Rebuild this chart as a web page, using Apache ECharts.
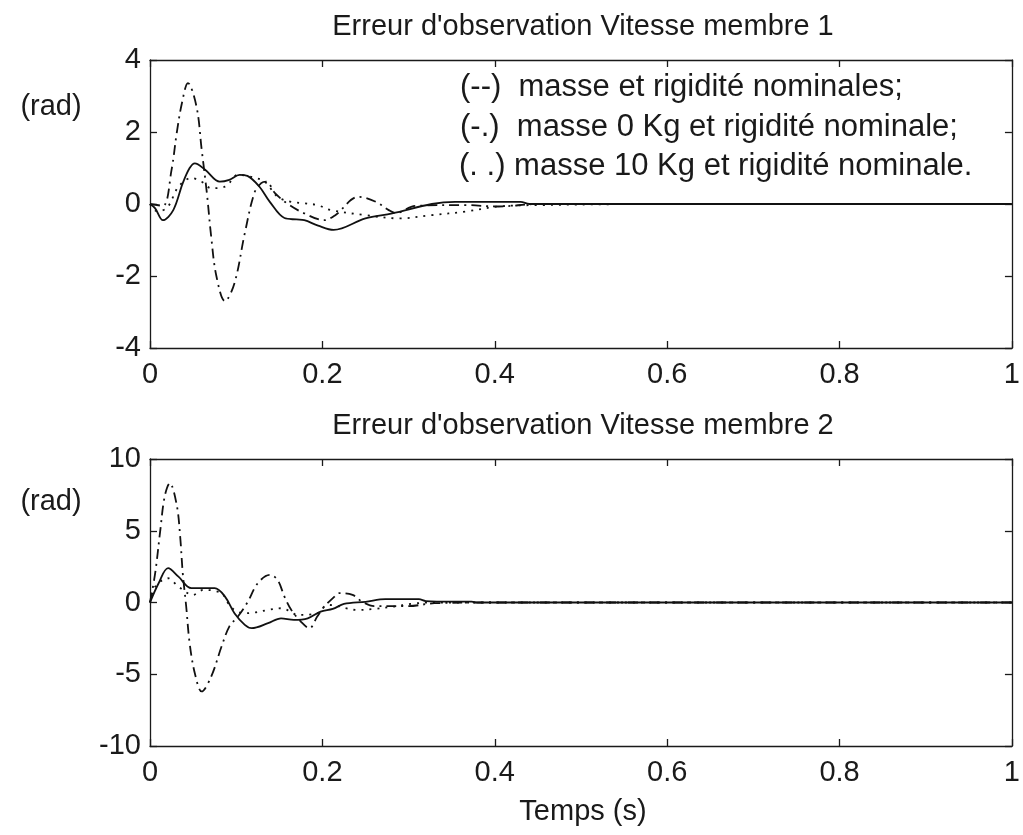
<!DOCTYPE html>
<html>
<head>
<meta charset="utf-8">
<script src="https://cdn.jsdelivr.net/npm/echarts@6/dist/echarts.min.js"></script>
<style>
html,body{margin:0;padding:0;background:#fff;}
#c{width:1023px;height:835px;}
</style>
</head>
<body>
<div id="c"></div>
<script>
// ---- Data ----
const title1 = "Erreur d'observation Vitesse membre 1";
const title2 = "Erreur d'observation Vitesse membre 2";
const yUnit = "(rad)";
const xName = "Temps (s)";
const legendLines = [
  "(--)  masse et rigidité nominales;",
  "(-.)  masse 0 Kg et rigidité nominale;",
  "(. .) masse 10 Kg et rigidité nominale."
];

// Top plot: solid (nominal)
const t1Solid = [0, 0.006, 0.015, 0.027, 0.038, 0.046, 0.052, 0.064, 0.081, 0.092, 0.104, 0.113, 0.127, 0.139, 0.156, 0.17, 0.179, 0.195, 0.213, 0.25, 0.281, 0.327, 0.354, 0.404, 0.43, 0.44, 0.6, 1.0];
const v1Solid = [0, -0.12, -0.45, -0.17, 0.58, 1.0, 1.13, 0.95, 0.62, 0.67, 0.81, 0.78, 0.48, 0.06, -0.39, -0.43, -0.45, -0.6, -0.72, -0.4, -0.26, 0, 0.06, 0.06, 0.06, 0, 0, 0];
// Top plot: dash-dot (masse 0 Kg)
const t1DashDot = [0, 0.015, 0.025, 0.031, 0.037, 0.044, 0.054, 0.06, 0.066, 0.071, 0.077, 0.087, 0.098, 0.11, 0.121, 0.129, 0.135, 0.145, 0.16, 0.179, 0.202, 0.215, 0.242, 0.262, 0.277, 0.285, 0.308, 0.365, 0.404, 0.45, 1.0];
const v1DashDot = [0, -0.05, 0.95, 1.97, 2.8, 3.36, 2.7, 1.5, 0.3, -0.91, -2.0, -2.7, -2.2, -0.81, 0.3, 0.58, 0.62, 0.3, 0, -0.26, -0.45, -0.31, 0.2, 0.06, -0.17, -0.25, -0.05, -0.03, -0.07, 0, 0];
// Top plot: dotted (masse 10 Kg)
const t1Dot = [0, 0.008, 0.02, 0.033, 0.048, 0.06, 0.071, 0.087, 0.102, 0.113, 0.133, 0.148, 0.164, 0.179, 0.194, 0.21, 0.25, 0.289, 0.327, 0.366, 0.404, 0.45, 0.6, 1.0];
const v1Dot = [0, -0.2, -0.1, 0.48, 0.72, 0.62, 0.44, 0.48, 0.81, 0.78, 0.62, 0.2, 0.06, 0.02, -0.03, -0.17, -0.31, -0.4, -0.31, -0.21, -0.07, -0.03, 0, 0];

// Bottom plot: solid (nominal)
const t2Solid = [0, 0.01, 0.021, 0.033, 0.048, 0.075, 0.087, 0.098, 0.11, 0.118, 0.137, 0.152, 0.167, 0.183, 0.198, 0.212, 0.225, 0.25, 0.273, 0.312, 0.32, 0.35, 0.373, 0.38, 1.0];
const v2Solid = [0, 1.34, 2.39, 1.8, 1.0, 1.0, 0.41, -0.75, -1.56, -1.79, -1.44, -1.1, -1.21, -1.1, -0.63, -0.45, -0.1, 0.05, 0.23, 0.23, 0.1, 0.06, 0.06, 0, 0];
// Bottom plot: dash-dot (masse 0 Kg)
const t2DashDot = [0, 0.006, 0.012, 0.017, 0.023, 0.031, 0.035, 0.038, 0.042, 0.046, 0.052, 0.06, 0.071, 0.083, 0.092, 0.102, 0.113, 0.125, 0.139, 0.148, 0.156, 0.164, 0.175, 0.185, 0.194, 0.202, 0.214, 0.219, 0.235, 0.246, 0.26, 0.3, 0.33, 0.4, 1.0];
const v2DashDot = [0, 2.04, 5.06, 7.38, 8.31, 6.8, 4.6, 2.04, -0.28, -2.84, -4.93, -6.2, -5.16, -3.07, -1.68, -0.98, 0, 1.34, 1.92, 1.57, 0.41, -0.52, -1.33, -1.79, -0.98, -0.3, 0.41, 0.65, 0.53, 0.06, -0.25, -0.25, -0.05, 0, 0];
// Bottom plot: dotted (masse 10 Kg)
const t2Dot = [0, 0.006, 0.021, 0.033, 0.05, 0.062, 0.083, 0.09, 0.098, 0.11, 0.121, 0.137, 0.152, 0.163, 0.171, 0.194, 0.206, 0.221, 0.227, 0.24, 0.26, 0.283, 0.303, 0.323, 1.0];
const v2Dot = [0, 1.1, 1.69, 1.1, 0.53, 0.88, 0.65, 0, -0.52, -0.75, -0.7, -0.52, -0.4, -0.63, -0.87, -0.75, -0.17, -0.28, -0.4, -0.52, -0.45, -0.28, -0.1, 0, 0];

// Axis ranges / ticks
const xMin = 0, xMax = 1, xStep = 0.2;
const y1Min = -4, y1Max = 4, y1Step = 2;
const y2Min = -10, y2Max = 10, y2Step = 5;

// ---- Chart ----
const FONT = "'Liberation Sans', Arial, sans-serif";
const FS = 29;
const FS_LEG = 31;
const INK = '#1a1a1a';
const pairs = (t, v) => t.map((x, i) => [x, v[i]]);

const axisLineStyle = { show: true, onZero: false, lineStyle: { color: INK, width: 1.3 } };
const tickStyle = { show: true, inside: true, length: 7, lineStyle: { color: INK, width: 1.3 } };

function xAx(grid, pos, labels) {
  return {
    type: 'value', gridIndex: grid, position: pos, min: xMin, max: xMax, interval: xStep,
    axisLine: axisLineStyle, axisTick: tickStyle, splitLine: { show: false },
    axisLabel: { show: labels, color: INK, fontSize: FS, fontFamily: FONT, margin: 12 }
  };
}
function yAx(grid, pos, labels, mn, mx, st) {
  return {
    type: 'value', gridIndex: grid, position: pos, min: mn, max: mx, interval: st,
    axisLine: axisLineStyle, axisTick: tickStyle, splitLine: { show: false },
    axisLabel: { show: labels, color: INK, fontSize: FS, fontFamily: FONT, margin: 9 }
  };
}
function line(xi, yi, t, v, type, w) {
  return {
    type: 'line', xAxisIndex: xi, yAxisIndex: yi, data: pairs(t, v), smooth: 0.35,
    showSymbol: false, symbol: 'none', animation: false,
    lineStyle: { color: '#111', width: w, type: type }
  };
}

const dashDot = [10, 5, 2, 5];
const dotted = [2, 6];

function txt(s, x, y, align, fs) {
  return { type: 'text', x: x, y: y, style: { text: s, font: (fs || FS) + 'px ' + FONT, fill: INK, textAlign: align, textVerticalAlign: 'middle' } };
}

const chart = echarts.init(document.getElementById('c'), null, { renderer: 'canvas' });
chart.setOption({
  backgroundColor: '#fff',
  animation: false,
  textStyle: { fontFamily: FONT },
  grid: [
    { left: 150, right: 7, top: 60, height: 288 },
    { left: 150, right: 7, top: 459, height: 287 }
  ],
  xAxis: [xAx(0, 'bottom', true), xAx(0, 'top', false), xAx(1, 'bottom', true), xAx(1, 'top', false)],
  yAxis: [
    yAx(0, 'left', true, y1Min, y1Max, y1Step), yAx(0, 'right', false, y1Min, y1Max, y1Step),
    yAx(1, 'left', true, y2Min, y2Max, y2Step), yAx(1, 'right', false, y2Min, y2Max, y2Step)
  ],
  series: [
    line(0, 0, t1Dot, v1Dot, dotted, 1.8),
    line(0, 0, t1DashDot, v1DashDot, dashDot, 1.8),
    line(0, 0, t1Solid, v1Solid, 'solid', 1.8),
    line(2, 2, t2Dot, v2Dot, dotted, 1.8),
    line(2, 2, t2DashDot, v2DashDot, dashDot, 1.8),
    line(2, 2, t2Solid, v2Solid, 'solid', 1.8)
  ],
  graphic: [
    txt(title1, 583, 27, 'center'),
    txt(title2, 583, 426, 'center'),
    txt(yUnit, 51, 107, 'center'),
    txt(yUnit, 51, 502, 'center'),
    txt(xName, 583, 812, 'center'),
    txt(legendLines[0], 460, 87, 'left', FS_LEG),
    txt(legendLines[1], 460, 127, 'left', FS_LEG),
    txt(legendLines[2], 459, 166, 'left', FS_LEG)
  ]
});
</script>
</body>
</html>
